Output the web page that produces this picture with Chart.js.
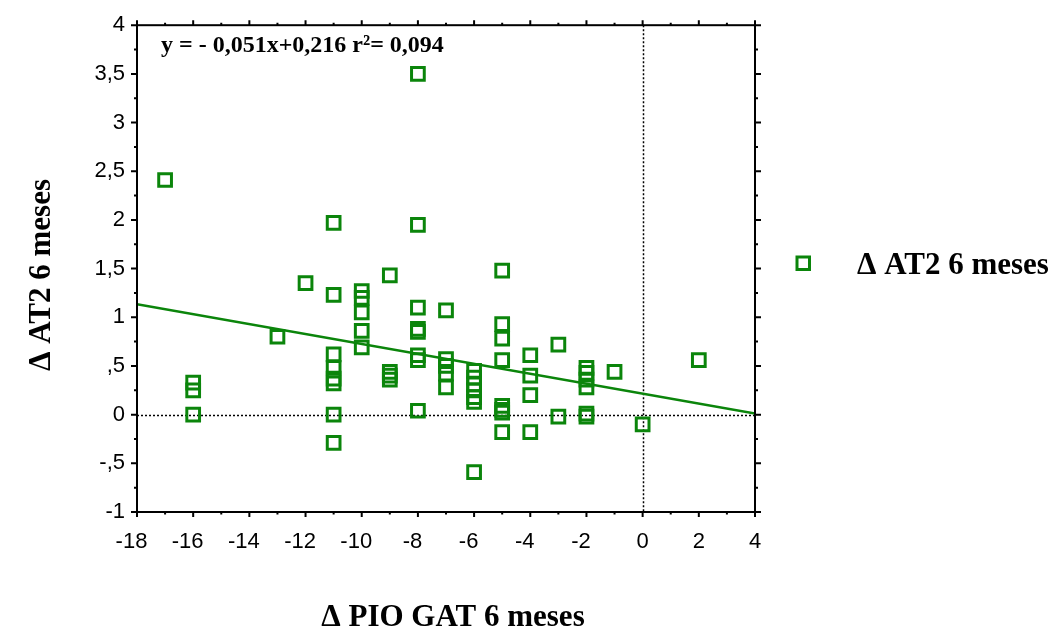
<!DOCTYPE html>
<html>
<head>
<meta charset="utf-8">
<script src="https://cdn.jsdelivr.net/npm/chart.js@4"></script>
<style>
  html, body { margin: 0; padding: 0; background: #fff; }
  #wrap { width: 1054px; height: 631px; }
</style>
</head>
<body>
<div id="wrap"><canvas id="scatter" width="1054" height="631"></canvas></div>
<script>
// Δ PIO GAT (x) vs Δ AT2 (y) at 6 months, one entry per eye
const pioChange = [
  -17,
  -16, -16, -16,
  -13,
  -12,
  -11, -11, -11, -11, -11, -11, -11, -11,
  -10, -10, -10, -10, -10,
  -9, -9, -9, -9,
  -8, -8, -8, -8, -8, -8, -8, -8,
  -7, -7, -7, -7, -7,
  -6, -6, -6, -6, -6, -6, -6,
  -5, -5, -5, -5, -5, -5, -5, -5,
  -4, -4, -4, -4,
  -3, -3,
  -2, -2, -2, -2, -2, -2,
  -1,
  0,
  2
];
const at2Change = [
  2.41,
  0.33, 0.25, 0,
  0.80,
  1.35,
  1.97, 1.23, 0.62, 0.48, 0.37, 0.32, 0, -0.29,
  1.27, 1.20, 1.05, 0.86, 0.69,
  1.43, 0.44, 0.40, 0.36,
  3.5, 1.95, 1.10, 0.88, 0.85, 0.61, 0.56, 0.04,
  1.07, 0.57, 0.50, 0.42, 0.28,
  0.45, 0.38, 0.31, 0.25, 0.18, 0.13, -0.59,
  1.48, 0.93, 0.78, 0.56, 0.09, 0.05, 0.02, -0.18,
  0.61, 0.40, 0.20, -0.18,
  0.72, -0.02,
  0.48, 0.43, 0.36, 0.28, 0.01, -0.02,
  0.44,
  -0.10,
  0.56
];

// fitted line y = -0,051x + 0,216 (r² = 0,094)
const slope = -0.051;
const intercept = 0.216;
const fitRange = [-18, 4];

const xTickValues = [-18, -16, -14, -12, -10, -8, -6, -4, -2, 0, 2, 4];
const yTickLabels = {
  '4': '4', '3.5': '3,5', '3': '3', '2.5': '2,5', '2': '2', '1.5': '1,5',
  '1': '1', '0.5': ',5', '0': '0', '-0.5': '-,5', '-1': '-1'
};

const seriesName = 'Δ AT2 6 meses';
const xTitle = 'Δ PIO GAT 6 meses';
const fitText = 'y = - 0,051x+0,216 r²= 0,094';

const GREEN = '#0b850b';
const SERIF_BOLD = 'bold 31px "Liberation Serif", "Times New Roman", serif';
const TICK_FONT = { family: '"Liberation Sans", Arial, sans-serif', size: 22 };

const points = pioChange.map((x, i) => ({ x: x, y: at2Change[i] }));
const fitLine = fitRange.map(x => ({ x: x, y: slope * x + intercept }));

// frame, outward tick marks, dotted zero lines, titles and legend
const framePlugin = {
  id: 'frame',
  beforeDatasetsDraw(chart) {
    const { ctx, chartArea: a, scales: { x, y } } = chart;
    ctx.save();
    ctx.strokeStyle = '#000';
    ctx.lineWidth = 1.5;
    ctx.setLineDash([2, 2]);
    const x0 = Math.round(x.getPixelForValue(0)) + 0.5;
    const y0 = Math.round(y.getPixelForValue(0)) + 0.5;
    ctx.beginPath();
    ctx.moveTo(x0, a.top); ctx.lineTo(x0, a.bottom);
    ctx.moveTo(a.left, y0); ctx.lineTo(a.right, y0);
    ctx.stroke();
    ctx.restore();
  },
  afterDraw(chart) {
    const { ctx, chartArea: a, scales: { x, y } } = chart;
    ctx.save();
    ctx.strokeStyle = '#000';
    ctx.lineWidth = 2;
    ctx.strokeRect(a.left, a.top, a.right - a.left, a.bottom - a.top);
    ctx.beginPath();
    for (let v = -18; v <= 4; v++) {
      const px = x.getPixelForValue(v);
      const len = v % 2 === 0 ? 5 : 2.5;
      ctx.moveTo(px, a.bottom); ctx.lineTo(px, a.bottom + len);
      ctx.moveTo(px, a.top); ctx.lineTo(px, a.top - len);
    }
    for (let k = -4; k <= 16; k++) {
      const v = k / 4;
      const py = y.getPixelForValue(v);
      const len = k % 2 === 0 ? 6 : 3;
      ctx.moveTo(a.left, py); ctx.lineTo(a.left - len, py);
      ctx.moveTo(a.right, py); ctx.lineTo(a.right + len, py);
    }
    ctx.stroke();

    ctx.fillStyle = '#000';
    ctx.textBaseline = 'middle';

    // regression equation
    ctx.textAlign = 'left';
    ctx.font = 'bold 24px "Liberation Serif", "Times New Roman", serif';
    ctx.fillText(fitText, 161, 46);

    // axis titles
    ctx.font = SERIF_BOLD;
    ctx.textAlign = 'center';
    ctx.fillText(xTitle, 453, 618);
    ctx.save();
    ctx.translate(42, 275);
    ctx.rotate(-Math.PI / 2);
    ctx.fillText(seriesName, 0, 0);
    ctx.restore();

    // legend
    ctx.strokeStyle = GREEN;
    ctx.lineWidth = 3;
    ctx.strokeRect(797, 257, 12.5, 12.5);
    ctx.textAlign = 'left';
    ctx.fillText(seriesName, 857, 266);
    ctx.restore();
  }
};

new Chart(document.getElementById('scatter'), {
  type: 'scatter',
  data: {
    datasets: [
      {
        label: seriesName,
        data: points,
        pointStyle: 'rect',
        pointRadius: 9,
        pointHoverRadius: 9,
        borderColor: GREEN,
        backgroundColor: 'rgba(0,0,0,0)',
        borderWidth: 3
      },
      {
        type: 'line',
        label: 'ajuste',
        data: fitLine,
        borderColor: GREEN,
        borderWidth: 2.5,
        pointRadius: 0,
        fill: false
      }
    ]
  },
  options: {
    responsive: false,
    animation: false,
    layout: { padding: { top: 23, right: 299, bottom: 0, left: 0 } },
    plugins: {
      legend: { display: false },
      tooltip: { enabled: false }
    },
    scales: {
      x: {
        type: 'linear',
        min: -18,
        max: 4,
        afterFit: s => { s.height = 119; },
        afterBuildTicks: s => { s.ticks = xTickValues.map(v => ({ value: v })); },
        grid: { display: false, drawTicks: false },
        border: { display: false },
        ticks: {
          color: '#000',
          padding: 17,
          maxRotation: 0,
          autoSkip: false,
          font: TICK_FONT,
          // digits sit under the tick, the minus sign hangs to the left
          callback: v => (v < 0 ? v + '\u2002' : String(v))
        }
      },
      y: {
        type: 'linear',
        min: -1,
        max: 4,
        afterFit: s => { s.width = 137; },
        afterBuildTicks: s => { s.ticks = Object.keys(yTickLabels).map(k => ({ value: Number(k) })); },
        grid: { display: false, drawTicks: false },
        border: { display: false },
        ticks: {
          color: '#000',
          padding: 12,
          autoSkip: false,
          font: TICK_FONT,
          callback: v => yTickLabels[String(v)]
        }
      }
    }
  },
  plugins: [framePlugin]
});
</script>
</body>
</html>
